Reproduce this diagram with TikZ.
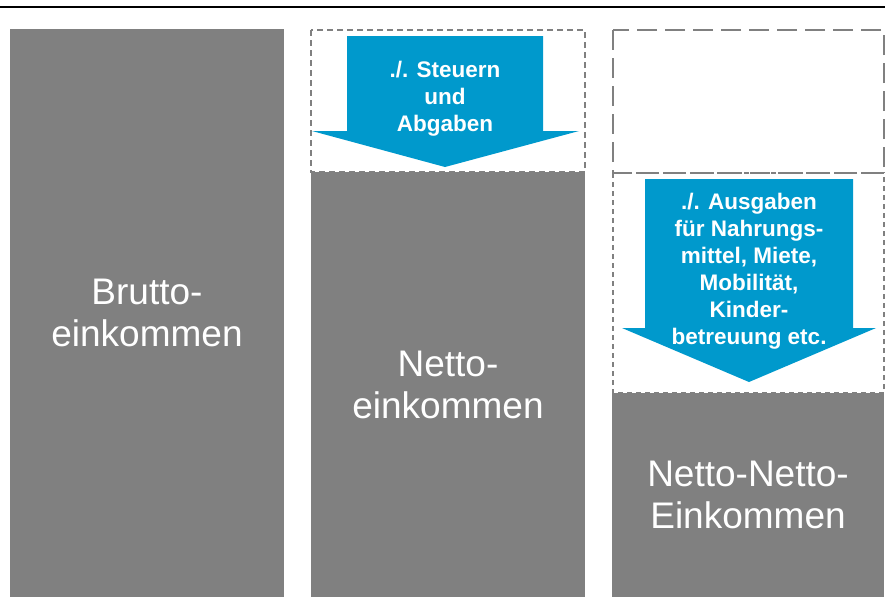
\documentclass[tikz,border=0pt]{standalone}
\usepackage{fontspec}
\setmainfont{Liberation Sans}
\definecolor{boxgray}{RGB}{128,128,128}
\definecolor{arrowblue}{RGB}{0,153,204}
\definecolor{dashgray}{RGB}{128,128,128}
\begin{document}
\begin{tikzpicture}[x=1pt,y=-1pt,
  bar/.style={fill=boxgray, draw=none, inner sep=0pt, outer sep=0pt,
    text=white, align=center, font=\fontsize{37}{42}\selectfont},
  slot/.style={draw=dashgray, line width=2.2pt},
  shortdash/.style={dash pattern=on 6pt off 4pt},
  longdash/.style={dash pattern=on 20pt off 8pt},
  midddash/.style={dash pattern=on 5pt off 4pt},
  minusarrow/.style={fill=arrowblue, draw=none},
  arrowtext/.style={text=white, align=center, inner sep=0pt,
    font=\bfseries\fontsize{22.5}{27}\selectfont}]
\useasboundingbox (0,0) rectangle (885,614);
% top rule
\draw[line width=2.3pt] (0,7) -- (885,7);
% column 1
\node[bar, minimum width=274pt, minimum height=568pt] (brutto) at (147,313)
  {Brutto-\\einkommen};
% column 2
\draw[slot, shortdash] (311,30) rectangle (585,172);
\node[bar, minimum width=274pt, minimum height=425pt] (netto) at (448,384.5)
  {Netto-\\einkommen};
\fill[minusarrow] (347,36) -- (543,36) -- (543,131) -- (579,131) -- (445,167)
  -- (312,131) -- (347,131) -- cycle;
\node[arrowtext] (steuern) at (445,99) {./. Steuern\\und\\Abgaben};
% column 3
\draw[slot, longdash] (613,30) rectangle (884,173);
\draw[slot, midddash] (613,173) rectangle (884,393);
\node[bar, minimum width=272pt, minimum height=204pt] (nettonetto) at (748,495)
  {Netto-Netto-\\Einkommen};
\fill[minusarrow] (645,179) -- (853,179) -- (853,328) -- (876,328) -- (749,382)
  -- (622,328) -- (645,328) -- cycle;
\node[arrowtext] (ausgaben) at (749,271)
  {./. Ausgaben\\für Nahrungs-\\mittel, Miete,\\Mobilität,\\Kinder-\\betreuung etc.};
\end{tikzpicture}
\end{document}
